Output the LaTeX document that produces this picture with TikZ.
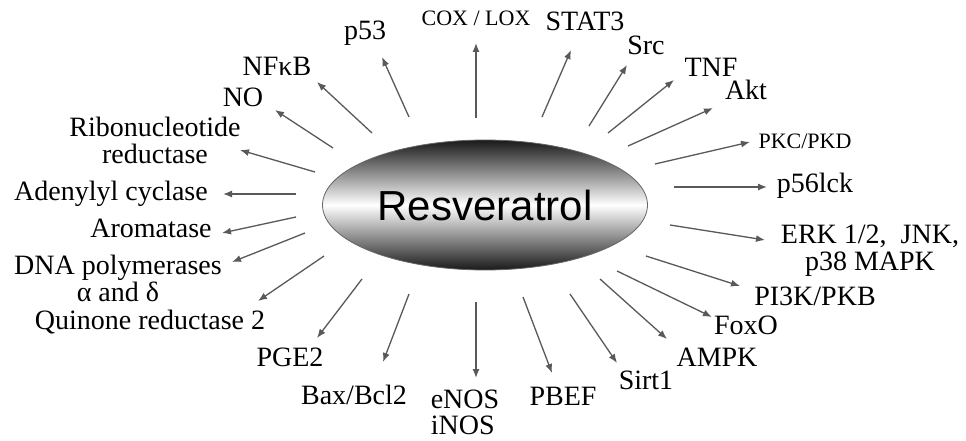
\documentclass[tikz,border=0pt]{standalone}
\usepackage{fontspec}
\setmainfont{Liberation Serif}
\newfontfamily\arialfont{Liberation Sans}
\usetikzlibrary{arrows.meta,shapes.geometric}
\begin{document}
\begin{tikzpicture}[x=1pt,y=-1pt,
  lbl/.style={font=\fontsize{28}{27}\selectfont, inner sep=0pt, text height=19pt, text depth=6pt},
  lbltwo/.style={font=\fontsize{28}{27}\selectfont, inner sep=0pt},
  lblsmall/.style={font=\fontsize{22}{22}\selectfont, inner sep=0pt, text height=15pt, text depth=4pt},
  arr/.style={draw=black!65, line width=1.3pt, -{Latex[length=9pt,width=7pt]}},
  centre/.style={ellipse, draw=black!60, line width=0.8pt, minimum width=325pt, minimum height=130pt,
    top color=black!90, bottom color=black!90, middle color=white, inner sep=0pt}]
\useasboundingbox (0,0) rectangle (966,441);
\fill[white] (0,0) rectangle (966,441);

\node[centre] (R) at (485,205) {\arialfont\fontsize{42}{42}\selectfont Resveratrol};

% labels
\node[lbl] (p53) at (365,33) {p53};
\node[lbl] (nfkb) at (277,69) {NFκB};
\node[lbl] (no) at (243,100) {NO};
\node[lbltwo, align=center] (ribo) at (155,140) {Ribonucleotide\\reductase};
\node[lbl] (adcy) at (111,194) {Adenylyl cyclase};
\node[lbl] (arom) at (151,231) {Aromatase};
\node[lbltwo, align=center] (dna) at (118,278) {DNA polymerases\\α and δ};
\node[lbl] (qr2) at (150,323) {Quinone reductase 2};
\node[lbl] (pge) at (290,360) {PGE2};
\node[lbl] (bax) at (354,398) {Bax/Bcl2};
\node[lbltwo, align=left, font=\fontsize{28}{26}\selectfont] (enos) at (465,412) {eNOS\\iNOS};
\node[lbl] (pbef) at (563,399) {PBEF};
\node[lbl] (sirt) at (646,383) {Sirt1};
\node[lbl] (ampk) at (717,360) {AMPK};
\node[lbl] (foxo) at (746,328) {FoxO};
\node[lbl] (pi3k) at (815,299) {PI3K/PKB};
\node[lbltwo, align=center] (erk) at (870,251) {ERK 1/2,\ \ JNK,\\p38 MAPK};
\node[lbl] (lck) at (815,186) {p56lck};
\node[lblsmall] (pkc) at (805,143) {PKC/PKD};
\node[lbl] (akt) at (746,93) {Akt};
\node[lbl] (tnf) at (711,70) {TNF};
\node[lbl] (src) at (646,48) {Src};
\node[lbl] (stat) at (585,24) {STAT3};
\node[lblsmall] (cox) at (476,20) {COX / LOX};

% connectors
\foreach \n/\sx/\sy/\ex/\ey in {
  a/409/117/382/57, b/372/133/317/82, c/333/148/275/110, d/315/172/240/150,
  e/296/194/223/194, f/296/217/222/233, g/305/233/232/262, h/324/256/258/301,
  i/362/279/317/338, j/409/294/383/362, k/476/302/476/378, l/523/297/552/373,
  m/570/294/617/363, n/600/279/667/339, o/617/271/712/317, p/646/256/740/286,
  q/670/225/765/240, r/674/187/767/187, s/655/164/750/142, t/628/146/713/108,
  u/608/133/674/80, v/589/126/627/65, w/542/117/571/50, x/476/118/476/43}{
  \coordinate (s\n) at (\sx,\sy);
  \coordinate (e\n) at (\ex,\ey);
  \draw[arr] (s\n) -- (e\n);
}
\end{tikzpicture}
\end{document}
